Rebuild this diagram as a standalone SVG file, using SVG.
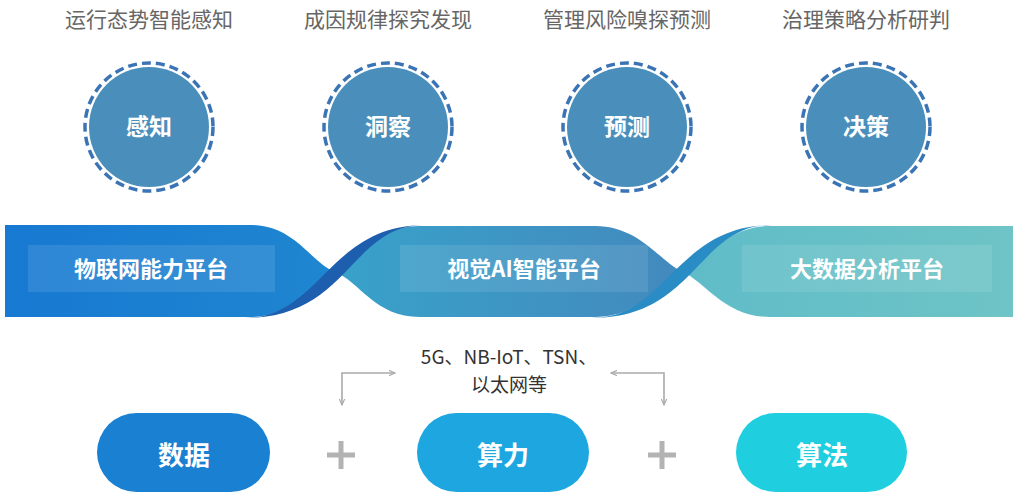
<svg xmlns="http://www.w3.org/2000/svg" width="1019" height="500" viewBox="0 0 1019 500">
<defs>
<style>
.top{font-family:"Noto Sans CJK SC","Noto Sans",sans-serif;font-size:21px;fill:#666;text-anchor:middle}
.ct{font-family:"Noto Sans CJK SC","Noto Sans",sans-serif;font-size:23px;font-weight:bold;fill:#fff;text-anchor:middle}
.bt{font-family:"Noto Sans CJK SC","Noto Sans",sans-serif;font-size:22px;font-weight:bold;fill:#fff;text-anchor:middle}
.pt{font-family:"Noto Sans CJK SC","Noto Sans",sans-serif;font-size:26px;font-weight:bold;fill:#fff;text-anchor:middle}
.nt{font-family:"Noto Sans CJK SC","Noto Sans",sans-serif;font-size:19px;fill:#333;text-anchor:middle}
.cf{fill:#4a8fbb}
.cr{fill:none;stroke:#3b74b5;stroke-width:3.5;stroke-dasharray:9 5}
.box{fill:#fff;fill-opacity:0.1}
.conn{fill:none;stroke:#aaa;stroke-width:1.6}
.plus{stroke:#b3b3b3;stroke-width:5}
</style>
<linearGradient id="g2" x1="335" y1="0" x2="683" y2="0" gradientUnits="userSpaceOnUse">
<stop offset="0" stop-color="#38a2ca"/><stop offset="1" stop-color="#4389bd"/>
</linearGradient>
<linearGradient id="g1" x1="5" y1="0" x2="335" y2="0" gradientUnits="userSpaceOnUse">
<stop offset="0" stop-color="#1779d2"/><stop offset="1" stop-color="#1f86d0"/>
</linearGradient>
<linearGradient id="g3" x1="683" y1="0" x2="1013" y2="0" gradientUnits="userSpaceOnUse">
<stop offset="0" stop-color="#5fbcc8"/><stop offset="1" stop-color="#6ec4c6"/>
</linearGradient>
<marker id="ah" viewBox="0 0 10 10" refX="9" refY="5" markerWidth="7" markerHeight="7" orient="auto-start-reverse" markerUnits="userSpaceOnUse">
<path d="M0,1 L9,5 L0,9" fill="none" stroke="#aaa" stroke-width="1.6"/>
</marker>
</defs>
<rect width="1019" height="500" fill="#fff"/>

<text class="top" x="149" y="27">运行态势智能感知</text>
<text class="top" x="388" y="27">成因规律探究发现</text>
<text class="top" x="627" y="27">管理风险嗅探预测</text>
<text class="top" x="866" y="27">治理策略分析研判</text>

<g id="n-ganzhi"><circle class="cf" cx="149" cy="127" r="60"/><circle class="cr" cx="149" cy="127" r="64"/><text class="ct" x="149" y="135">感知</text></g>
<g id="n-dongcha"><circle class="cf" cx="388" cy="127" r="60"/><circle class="cr" cx="388" cy="127" r="64"/><text class="ct" x="388" y="135">洞察</text></g>
<g id="n-yuce"><circle class="cf" cx="627" cy="127" r="60"/><circle class="cr" cx="627" cy="127" r="64"/><text class="ct" x="627" y="135">预测</text></g>
<g id="n-juece"><circle class="cf" cx="866" cy="127" r="60"/><circle class="cr" cx="866" cy="127" r="64"/><text class="ct" x="866" y="135">决策</text></g>

<g id="band">
<path d="M5,225 H250 C295,225 310,262 335,272 C310,282 295,317 250,317 H5 Z" fill="url(#g1)"/>
<path d="M335,272 C360,262 375,226 420,226 H595 C640,226 660,262 683,272 C660,282 640,317 595,317 H420 C375,317 360,282 335,272 Z" fill="url(#g2)"/>
<path d="M683,272 C705,262 725,226 770,226 H1013 V317 H770 C725,317 705,282 683,272 Z" fill="url(#g3)"/>
<path d="M245,318 C320,318 329,225 425,225 C350,225 349,318 245,318 Z" fill="#1d5fae"/>
<path d="M592,318 C667,318 676,225 772,225 C697,225 696,318 592,318 Z" fill="#2a8cc4"/>
</g>

<g id="n-iot"><rect class="box" x="28" y="245" width="247" height="47"/><text class="bt" x="151" y="277">物联网能力平台</text></g>
<g id="n-ai"><rect class="box" x="400" y="245" width="248" height="47"/><text class="bt" x="524" y="277">视觉AI智能平台</text></g>
<g id="n-bigdata"><rect class="box" x="742" y="245" width="250" height="47"/><text class="bt" x="867" y="277">大数据分析平台</text></g>

<g id="n-net"><text class="nt" x="509" y="364">5G、NB-IoT、TSN、</text><text class="nt" x="509" y="392">以太网等</text></g>

<g id="connectors">
<path class="conn" d="M342,405 V373 H395" marker-start="url(#ah)" marker-end="url(#ah)"/>
<path class="conn" d="M664,405 V373 H611" marker-start="url(#ah)" marker-end="url(#ah)"/>
</g>

<g id="n-data"><rect x="97" y="413" width="173" height="79" rx="39.5" fill="#1a80d2"/><text class="pt" x="184" y="465">数据</text></g>
<g id="n-compute"><rect x="417" y="413" width="172" height="79" rx="39.5" fill="#1da6e0"/><text class="pt" x="503" y="465">算力</text></g>
<g id="n-algo"><rect x="736" y="413" width="171" height="79" rx="39.5" fill="#1fcfe0"/><text class="pt" x="822" y="465">算法</text></g>

<g id="plus1"><line class="plus" x1="327" y1="455" x2="355" y2="455"/><line class="plus" x1="341" y1="441" x2="341" y2="469"/></g>
<g id="plus2"><line class="plus" x1="648" y1="455" x2="676" y2="455"/><line class="plus" x1="662" y1="441" x2="662" y2="469"/></g>
</svg>
